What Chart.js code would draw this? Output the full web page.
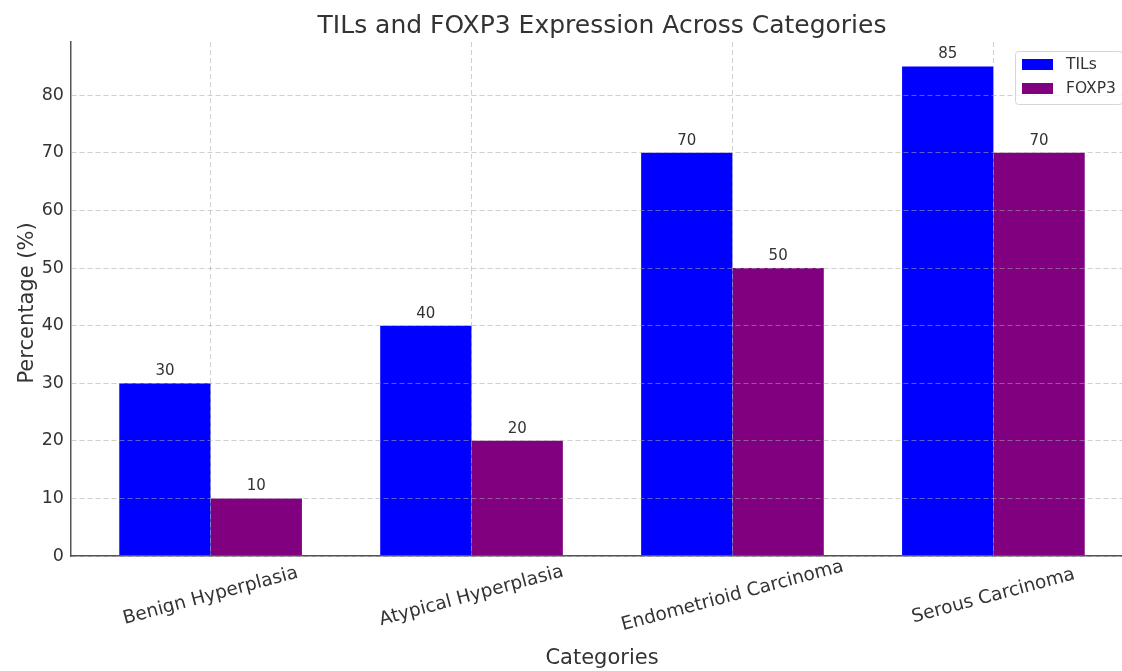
<!DOCTYPE html>
<html>
<head>
<meta charset="utf-8">
<script src="https://cdn.jsdelivr.net/npm/chart.js@4/dist/chart.umd.min.js"></script>
<style>
  html, body { margin: 0; padding: 0; overflow: hidden; background: #ffffff; }
  canvas { display: block; }
</style>
</head>
<body>
<canvas id="chart" width="1140" height="671" style="width:1140px;height:671px"></canvas>
<script>
// Chart data
const categories = ['Benign Hyperplasia', 'Atypical Hyperplasia', 'Endometrioid Carcinoma', 'Serous Carcinoma'];
const tilsValues = [30, 40, 70, 85];
const foxp3Values = [10, 20, 50, 70];
const yTicks = [0, 10, 20, 30, 40, 50, 60, 70, 80];
const seriesNames = ['TILs', 'FOXP3'];

const FONT = '"DejaVu Sans", "Liberation Sans", sans-serif';
const TEXT = '#333333';
const SPINE = '#555555';
const GRID = 'rgba(170,170,170,0.55)';

function toPoints(values) {
  return values.map((v, i) => ({ x: i, y: v }));
}

// Title, rotated category labels, axis titles, value labels and legend
const annotate = {
  id: 'annotate',
  afterDraw(chart) {
    const ctx = chart.ctx;
    const xs = chart.scales.x;
    const area = chart.chartArea;
    const cx = (area.left + area.right) / 2;
    ctx.save();
    ctx.fillStyle = TEXT;

    // chart title
    ctx.font = '25px ' + FONT;
    ctx.textAlign = 'center';
    ctx.textBaseline = 'alphabetic';
    ctx.fillText('TILs and FOXP3 Expression Across Categories', cx, 33);

    // category labels, rotated 15 degrees and centred under each group
    ctx.font = '18.5px ' + FONT;
    ctx.textBaseline = 'middle';
    categories.forEach((name, i) => {
      const x = xs.getPixelForValue(i);
      ctx.save();
      ctx.translate(x, 596);
      ctx.rotate(-15 * Math.PI / 180);
      ctx.fillText(name, 0, 0);
      ctx.restore();
    });

    // axis titles
    ctx.font = '21px ' + FONT;
    ctx.textBaseline = 'alphabetic';
    ctx.fillText('Categories', cx, 664);
    ctx.save();
    ctx.translate(33, (area.top + area.bottom) / 2 + 4);
    ctx.rotate(-Math.PI / 2);
    ctx.fillText('Percentage (%)', 0, 0);
    ctx.restore();

    // value labels above each bar
    ctx.font = '15px ' + FONT;
    ctx.textAlign = 'center';
    chart.data.datasets.forEach((ds, di) => {
      const meta = chart.getDatasetMeta(di);
      meta.data.forEach((bar, i) => {
        ctx.fillText(String(ds.data[i].y), bar.x, bar.y - 8);
      });
    });

    // legend box
    const boxL = 1015, boxT = 51, boxW = 107, boxH = 53;
    ctx.beginPath();
    ctx.roundRect(boxL + 0.5, boxT + 0.5, boxW, boxH, 3);
    ctx.fillStyle = 'rgba(255,255,255,0.8)';
    ctx.fill();
    ctx.strokeStyle = '#d6d6d6';
    ctx.lineWidth = 1;
    ctx.stroke();
    ctx.font = '15.5px ' + FONT;
    ctx.textAlign = 'left';
    ctx.textBaseline = 'middle';
    chart.data.datasets.forEach((ds, di) => {
      const yc = 64.5 + di * 24;
      ctx.fillStyle = ds.backgroundColor;
      ctx.fillRect(1022, yc - 5.5, 31, 11);
      ctx.fillStyle = TEXT;
      ctx.fillText(ds.label, 1066, yc + 0.5);
    });

    ctx.restore();
  }
};

new Chart(document.getElementById('chart'), {
  type: 'bar',
  data: {
    datasets: [
      { label: seriesNames[0], data: toPoints(tilsValues), backgroundColor: '#0000ff' },
      { label: seriesNames[1], data: toPoints(foxp3Values), backgroundColor: '#800080' }
    ]
  },
  options: {
    responsive: false,
    animation: false,
    devicePixelRatio: 1,
    categoryPercentage: 0.7,
    barPercentage: 1.0,
    layout: { padding: { top: 42, right: 7, left: 0, bottom: 0 } },
    plugins: {
      legend: { display: false },
      tooltip: { enabled: false },
      title: { display: false }
    },
    scales: {
      x: {
        type: 'linear',
        offset: false,
        min: -0.535,
        max: 3.535,
        afterBuildTicks: s => { s.ticks = categories.map((_, i) => ({ value: i })); },
        afterFit: s => { s.height = 115; },
        ticks: { display: false },
        grid: { color: GRID, lineWidth: 1, drawTicks: false, offset: false, z: 1 },
        border: { color: SPINE, width: 1.5, dash: [5, 3], z: 2 }
      },
      y: {
        type: 'linear',
        min: 0,
        max: 89.25,
        afterBuildTicks: s => { s.ticks = yTicks.map(v => ({ value: v })); },
        afterFit: s => { s.width = 71; },
        ticks: { color: TEXT, font: { family: FONT, size: 17.5 }, padding: 7 },
        grid: { color: GRID, lineWidth: 1, drawTicks: false, z: 1 },
        border: { color: SPINE, width: 1.5, dash: [5, 3], z: 2 }
      }
    }
  },
  plugins: [annotate]
});
</script>
</body>
</html>
